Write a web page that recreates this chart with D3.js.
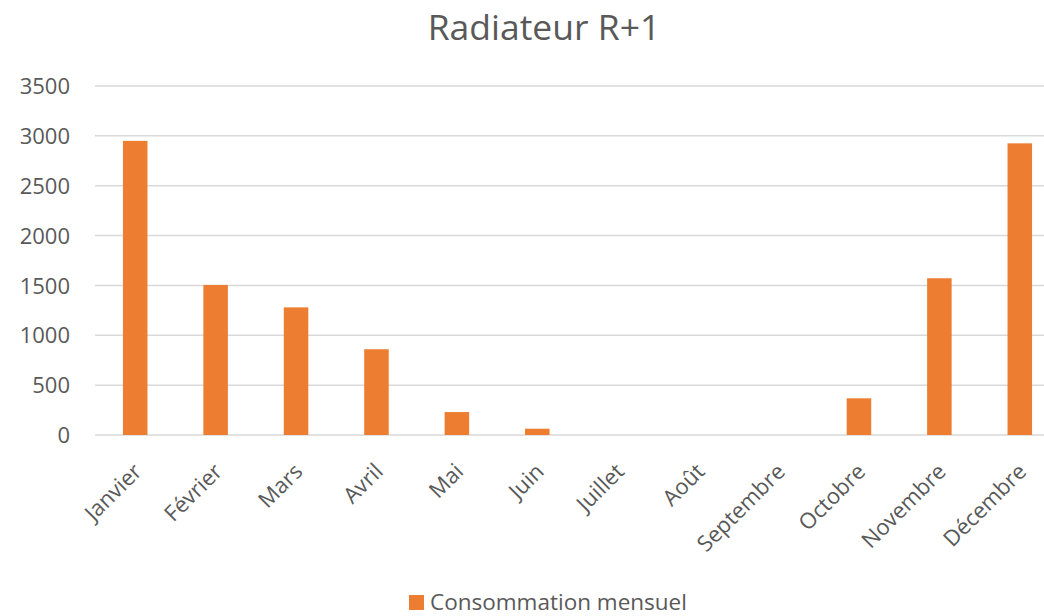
<!DOCTYPE html>
<html>
<head>
<meta charset="utf-8">
<script src="https://cdn.jsdelivr.net/npm/d3@7"></script>
<style>
  body { margin: 0; background: #fff; }
  svg { display: block; font-family: "Open Sans", "Noto Sans", sans-serif; }
</style>
</head>
<body>
<div id="wrapper"></div>
<script>
// # Data
const months = ["Janvier", "Février", "Mars", "Avril", "Mai", "Juin",
  "Juillet", "Août", "Septembre", "Octobre", "Novembre", "Décembre"];
const consommation = [2950, 1505, 1280, 860, 230, 63, 0, 0, 0, 368, 1572, 2925];
const yTicks = [0, 500, 1000, 1500, 2000, 2500, 3000, 3500];
const seriesName = "Consommation mensuel";
const chartTitle = "Radiateur R+1";

function drawBars() {
  // # Dimensions
  const dimensions = {
    width: 1044,
    height: 616,
    margin: { top: 86, right: -16, bottom: 181, left: 95 },
  };
  dimensions.boundedWidth = dimensions.width - dimensions.margin.left - dimensions.margin.right;
  dimensions.boundedHeight = dimensions.height - dimensions.margin.top - dimensions.margin.bottom;

  const textColor = "#595959";
  const fontFamily = '"Open Sans", "Noto Sans", sans-serif';

  // # Canvas
  const wrapper = d3.select("#wrapper")
    .append("svg")
    .attr("width", dimensions.width)
    .attr("height", dimensions.height);

  const bounds = wrapper.append("g")
    .attr("transform", `translate(${dimensions.margin.left},${dimensions.margin.top})`);

  // # Scales
  const xScale = d3.scaleBand()
    .domain(months)
    .range([0, dimensions.boundedWidth])
    .paddingInner(0.695)
    .paddingOuter(0.3475);

  const yScale = d3.scaleLinear()
    .domain([0, 3500])
    .range([dimensions.boundedHeight, 0]);

  // # Gridlines
  bounds.append("g")
    .selectAll("line")
    .data(yTicks)
    .join("line")
    .attr("x1", 0)
    .attr("x2", dimensions.width - dimensions.margin.left)
    .attr("y1", d => yScale(d))
    .attr("y2", d => yScale(d))
    .attr("stroke", "#d9d9d9")
    .attr("stroke-width", 1.5);

  // # Bars
  bounds.append("g")
    .selectAll("rect")
    .data(consommation)
    .join("rect")
    .attr("x", (d, i) => xScale(months[i]))
    .attr("y", d => yScale(d))
    .attr("width", xScale.bandwidth())
    .attr("height", d => dimensions.boundedHeight - yScale(d))
    .attr("fill", "#ed7d31");

  // # Y axis
  const yAxis = bounds.append("g")
    .call(d3.axisLeft(yScale)
      .tickValues(yTicks)
      .tickFormat(d3.format("d"))
      .tickSize(0)
      .tickPadding(25));
  yAxis.select(".domain").remove();
  yAxis.attr("font-family", fontFamily);
  yAxis.selectAll("text")
    .attr("fill", textColor)
    .style("font-size", "22px")
    .attr("dy", "0.35em");

  // # X axis labels
  bounds.append("g")
    .selectAll("text")
    .data(months)
    .join("text")
    .attr("transform", d => `translate(${xScale(d) + xScale.bandwidth() / 2 - 3},${dimensions.boundedHeight + 27}) rotate(-45)`)
    .attr("text-anchor", "end")
    .attr("dy", "0.7em")
    .attr("fill", textColor)
    .style("font-size", "22px")
    .text(d => d);

  // # Title
  wrapper.append("text")
    .attr("x", 544)
    .attr("y", 40)
    .attr("text-anchor", "middle")
    .attr("fill", textColor)
    .style("font-size", "35.5px")
    .text(chartTitle);

  // # Legend
  const legend = wrapper.append("g")
    .attr("transform", "translate(409,595)");
  legend.append("rect")
    .attr("width", 15)
    .attr("height", 15)
    .attr("fill", "#ed7d31");
  legend.append("text")
    .attr("x", 21)
    .attr("y", 14.5)
    .attr("fill", textColor)
    .style("font-size", "22.5px")
    .text(seriesName);
}
drawBars();
</script>
</body>
</html>
